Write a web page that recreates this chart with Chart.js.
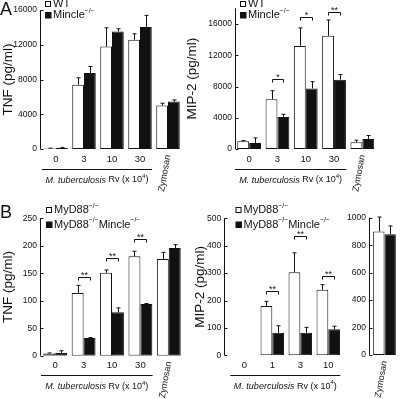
<!DOCTYPE html>
<html>
<head>
<meta charset="utf-8">
<script src="https://cdn.jsdelivr.net/npm/chart.js@4.4.1/dist/chart.umd.min.js"></script>
<style>
  html, body { margin: 0; padding: 0; background: #fff; }
  #fig { position: relative; width: 400px; height: 399px; overflow: hidden; font-family: 'Liberation Sans', Arial, sans-serif; }
  canvas { position: absolute; }
  .tag { position: absolute; font-size: 18px; line-height: 1; color: #111; }
</style>
</head>
<body>
<div id="fig">
  <canvas id="aTnf" width="190" height="195" style="left:0;top:0"></canvas>
  <canvas id="aMip" width="220" height="195" style="left:180px;top:0"></canvas>
  <canvas id="bTnf" width="190" height="204" style="left:0;top:195px"></canvas>
  <canvas id="bMip" width="165" height="204" style="left:180px;top:195px"></canvas>
  <canvas id="bZym" width="55" height="204" style="left:345px;top:195px"></canvas>
  <div class="tag" style="left:0;top:0">A</div>
  <div class="tag" style="left:0;top:203px">B</div>
</div>
<script>
  const FONT = "'Liberation Sans', Arial, sans-serif";
  const INK = '#111';
  Chart.defaults.font.family = FONT;
  Chart.defaults.color = INK;

  // A: TNF, WT vs Mincle-/-
  const catsA = ['0', '3', '10', '30', 'Zymosan'];
  const tnfWT = [60, 7400, 11800, 12580, 5000];
  const tnfWTErr = [40, 800, 2160, 690, 270];
  const tnfKO = [120, 8750, 13540, 14040, 5460];
  const tnfKOErr = [60, 750, 310, 1350, 190];
  const ticksTnfA = [0, 4000, 8000, 12000, 16000];

  // A: MIP-2
  const mipWT = [990, 6380, 13200, 14490, 860];
  const mipWTErr = [90, 1080, 2300, 2030, 260];
  const mipKO = [780, 4100, 7760, 8880, 1290];
  const mipKOErr = [640, 340, 860, 650, 435];
  const ticksMipA = [0, 4000, 8000, 12000, 16000];
  const mipSigIdx = [1, 2, 3];
  const mipSigLevel = [8900, 16900, 17550];
  const mipSigText = ['*', '*', '**'];

  // B: TNF, MyD88-/- vs MyD88-/-Mincle-/-
  const catsB = ['0', '3', '10', '30', 'Zymosan'];
  const tnfMyd = [4, 114, 151, 181, 176];
  const tnfMydErr = [1, 14, 5, 9, 12];
  const tnfDko = [5, 32, 79, 94, 196];
  const tnfDkoErr = [4, 1, 8, 1, 6];
  const ticksTnfB = [0, 50, 100, 150, 200, 250];
  const tnfBSigIdx = [1, 2, 3];
  const tnfBSigLevel = [143, 178, 212];
  const tnfBSigText = ['**', '**', '**'];

  // B: MIP-2
  const catsB2 = ['0', '1', '3', '10'];
  const mipMyd = [0, 180, 303, 239];
  const mipMydErr = [null, 17, 71, 19];
  const mipDko = [0, 82, 82, 95];
  const mipDkoErr = [null, 26, 20, 11];
  const ticksMipB = [0, 100, 200, 300, 400, 500];
  const mipBSigIdx = [1, 2, 3];
  const mipBSigLevel = [235, 434, 291];
  const mipBSigText = ['**', '**', '**'];

  // B: MIP-2, zymosan
  const catsZym = ['Zymosan'];
  const zymMyd = [900];
  const zymMydErr = [105];
  const zymDko = [880];
  const zymDkoErr = [60];
  const ticksZym = [0, 200, 400, 600, 800, 1000];

  const legendA = ['WT', 'Mincle^\u2212/\u2212'];
  const legendB = ['MyD88^\u2212/\u2212', 'MyD88^\u2212/\u2212^Mincle^\u2212/\u2212'];

  function drawRich(ctx, str, x, y, size) {
    let cx = x;
    str.split('^').forEach((p, k) => {
      const sup = k % 2 === 1;
      ctx.font = (sup ? size * 0.62 : size) + 'px ' + FONT;
      ctx.fillText(p, cx, sup ? y - size * 0.38 : y);
      cx += ctx.measureText(p).width;
    });
  }

  function mtbLabel(ctx, cx, y) {
    const segs = [
      { t: 'M. tuberculosis', f: 'italic 9px ' + FONT },
      { t: ' Rv (x 10', f: '9px ' + FONT },
      { t: '4', f: '6px ' + FONT, up: 3.5 },
      { t: ')', f: '9px ' + FONT }
    ];
    let w = 0;
    segs.forEach(s => { ctx.font = s.f; s.w = ctx.measureText(s.t).width; w += s.w; });
    let x = cx - w / 2;
    segs.forEach(s => { ctx.font = s.f; ctx.fillText(s.t, x, y - (s.up || 0)); x += s.w; });
  }

  const panelPlugin = {
    id: 'panel',
    afterDatasetsDraw(chart, args, opts) {
      const ctx = chart.ctx;
      const xs = chart.scales.x, ys = chart.scales.y;
      const area = chart.chartArea;
      ctx.save();
      ctx.strokeStyle = INK;
      ctx.fillStyle = INK;
      ctx.lineWidth = 1;

      // error bars (upper only)
      chart.data.datasets.forEach((ds, di) => {
        chart.getDatasetMeta(di).data.forEach((bar, i) => {
          const e = ds.err[i];
          if (e == null || ds.data[i] == null) return;
          const x = Math.round(bar.x) + 0.5;
          const top = ys.getPixelForValue(ds.data[i] + e);
          ctx.beginPath();
          ctx.moveTo(x, bar.y);
          ctx.lineTo(x, top);
          ctx.moveTo(x - 2, top);
          ctx.lineTo(x + 2, top);
          ctx.stroke();
        });
      });

      // y axis line with inward ticks
      const ax = Math.round(area.left - opts.gap) + 0.5;
      ctx.beginPath();
      ctx.moveTo(ax, ys.getPixelForValue(ys.max));
      ctx.lineTo(ax, ys.getPixelForValue(0));
      ys.ticks.forEach(t => {
        const py = Math.round(ys.getPixelForValue(t.value)) + 0.5;
        ctx.moveTo(ax, py);
        ctx.lineTo(ax + 3, py);
      });
      ctx.stroke();

      // significance brackets
      if (opts.sig) {
        const m0 = chart.getDatasetMeta(0).data, m1 = chart.getDatasetMeta(1).data;
        ctx.font = '9px ' + FONT;
        ctx.textAlign = 'center';
        ctx.textBaseline = 'alphabetic';
        opts.sig.idx.forEach((i, k) => {
          const x1 = Math.round(m0[i].x) + 0.5, x2 = Math.round(m1[i].x) + 0.5;
          const yb = Math.round(ys.getPixelForValue(opts.sig.level[k])) + 0.5;
          ctx.beginPath();
          ctx.moveTo(x1, yb + 3);
          ctx.lineTo(x1, yb);
          ctx.lineTo(x2, yb);
          ctx.lineTo(x2, yb + 3);
          ctx.stroke();
          ctx.fillText(opts.sig.text[k], (x1 + x2) / 2, yb + 0.5);
        });
      }

      // category labels
      const labels = chart.data.labels;
      ctx.textBaseline = 'middle';
      labels.forEach((lab, i) => {
        const cx = xs.getPixelForValue(i);
        if (lab === 'Zymosan') {
          ctx.save();
          ctx.translate(cx, area.bottom + 6);
          ctx.rotate(-80 * Math.PI / 180);
          ctx.font = '9px ' + FONT;
          ctx.textAlign = 'right';
          ctx.fillText(lab, 0, 0);
          ctx.restore();
        } else {
          ctx.font = '9.5px ' + FONT;
          ctx.textAlign = 'center';
          ctx.fillText(lab, cx, area.bottom + 10);
        }
      });

      // M. tuberculosis bracket line and label
      if (opts.mtbCount) {
        const w = labels.length > 1 ? xs.getPixelForValue(1) - xs.getPixelForValue(0) : 0;
        const x1 = xs.getPixelForValue(0) - w / 2;
        const x2 = xs.getPixelForValue(opts.mtbCount - 1) + w / 2 - 2;
        const yl = Math.round(area.bottom + 19.5) + 0.5;
        ctx.beginPath();
        ctx.moveTo(x1, yl);
        ctx.lineTo(x2, yl);
        ctx.stroke();
        ctx.textAlign = 'left';
        mtbLabel(ctx, (x1 + x2) / 2, area.bottom + 31);
      }

      // legend
      if (opts.legend) {
        const lg = opts.legend;
        ctx.textAlign = 'left';
        ctx.textBaseline = 'middle';
        lg.items.forEach((txt, k) => {
          const y = lg.y[k];
          if (k === 0) {
            ctx.fillStyle = '#fff';
            ctx.fillRect(lg.x, y - 3, 6, 6);
            ctx.strokeRect(lg.x + 0.5, y - 2.5, 5, 5);
          } else {
            ctx.fillStyle = INK;
            ctx.fillRect(lg.x, y - 3, 6.5, 6.5);
          }
          ctx.fillStyle = INK;
          drawRich(ctx, txt, lg.x + 8, y, 11);
        });
      }
      ctx.restore();
    }
  };

  function makeChart(id, o) {
    return new Chart(document.getElementById(id), {
      type: 'bar',
      data: {
        labels: o.cats,
        datasets: [
          { data: o.wt, err: o.wtErr, backgroundColor: '#fff', borderColor: INK, borderWidth: 1, borderSkipped: false },
          { data: o.ko, err: o.koErr, backgroundColor: INK, borderColor: INK, borderWidth: 1, borderSkipped: false }
        ]
      },
      options: {
        responsive: false,
        animation: false,
        events: [],
        devicePixelRatio: 1,
        layout: { padding: o.pad },
        datasets: { bar: { categoryPercentage: 0.84, barPercentage: 1 } },
        plugins: {
          legend: { display: false },
          tooltip: { enabled: false },
          panel: { gap: o.gap, sig: o.sig, legend: o.legend, mtbCount: o.mtbCount }
        },
        scales: {
          x: { display: false },
          y: {
            min: 0,
            max: o.max,
            afterFit: s => { s.width = o.axisW; },
            afterBuildTicks: s => { s.ticks = o.ticks.map(v => ({ value: v })); },
            grid: { display: false, drawTicks: false },
            border: { display: false },
            ticks: { padding: o.gap + 3, font: { size: 8.5 }, color: INK, callback: v => String(v) },
            title: o.title
              ? { display: true, text: o.title, font: { size: 13.5 }, color: INK, padding: { top: o.titlePad, bottom: 0 } }
              : { display: false }
          }
        }
      },
      plugins: [panelPlugin]
    });
  }

  makeChart('aTnf', {
    cats: catsA, wt: tnfWT, wtErr: tnfWTErr, ko: tnfKO, koErr: tnfKOErr,
    max: 16000, ticks: ticksTnfA, title: 'TNF (pg/ml)', titlePad: 0,
    pad: { left: 0, top: 9, right: 8, bottom: 46 }, axisW: 42, gap: 2, mtbCount: 4,
    legend: { x: 45, y: [4, 15], items: legendA }
  });

  makeChart('aMip', {
    cats: catsA, wt: mipWT, wtErr: mipWTErr, ko: mipKO, koErr: mipKOErr,
    max: 18000, ticks: ticksMipA, title: 'MIP-2 (pg/ml)', titlePad: 4.5,
    pad: { left: 0, top: 8.4, right: 23.5, bottom: 46 }, axisW: 55, gap: 0, mtbCount: 4,
    sig: { idx: mipSigIdx, level: mipSigLevel, text: mipSigText },
    legend: { x: 60, y: [4, 15], items: legendA }
  });

  makeChart('bTnf', {
    cats: catsB, wt: tnfMyd, wtErr: tnfMydErr, ko: tnfDko, koErr: tnfDkoErr,
    max: 250, ticks: ticksTnfB, title: 'TNF (pg/ml)', titlePad: 0,
    pad: { left: 0, top: 23.3, right: 7, bottom: 43.3 }, axisW: 41, gap: 1, mtbCount: 4,
    sig: { idx: tnfBSigIdx, level: tnfBSigLevel, text: tnfBSigText },
    legend: { x: 46, y: [15, 29.5], items: legendB }
  });

  makeChart('bMip', {
    cats: catsB2, wt: mipMyd, wtErr: mipMydErr, ko: mipDko, koErr: mipDkoErr,
    max: 500, ticks: ticksMipB, title: 'MIP-2 (pg/ml)', titlePad: 12,
    pad: { left: 0, top: 23.3, right: 2.7, bottom: 43.7 }, axisW: 50.3, gap: 6, mtbCount: 4,
    sig: { idx: mipBSigIdx, level: mipBSigLevel, text: mipBSigText },
    legend: { x: 55.5, y: [15, 29.5], items: legendB }
  });

  makeChart('bZym', {
    cats: catsZym, wt: zymMyd, wtErr: zymMydErr, ko: zymDko, koErr: zymDkoErr,
    max: 1000, ticks: ticksZym, title: null,
    pad: { left: 0, top: 22.7, right: 2, bottom: 44 }, axisW: 26, gap: 2, mtbCount: 0
  });
</script>
</body>
</html>
